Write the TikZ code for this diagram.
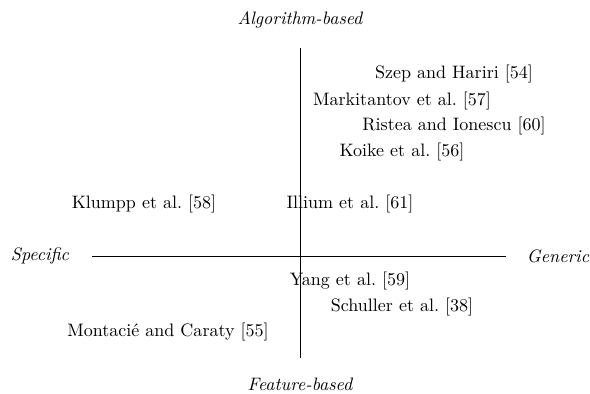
\documentclass[tikz,border=0pt]{standalone}
\usetikzlibrary{positioning}
\begin{document}
\frenchspacing
\begin{tikzpicture}[x=0.555pt,y=-0.555pt]
                \useasboundingbox (0,0) rectangle (590,393);
                \tikzset{axis label/.style={font=\itshape}}

                % axes
                \node[axis label] (alg) at (300,20) {Algorithm-based};
                \node[axis label] (feat) at (300,384) {Feature-based};
                \node[axis label] (spec) at (40,256) {Specific};
                \node[axis label] (gen) at (558,256) {Generic};
                \coordinate (top) at (300,48);
                \coordinate (bottom) at (300,358);
                \coordinate (left) at (92,256);
                \coordinate (right) at (506,256);
                \draw (top) -- (bottom);
                \draw (left) -- (right);

                % works
                \node (szep) at (454,74) {Szep and Hariri [54]};
                \node (mark) at (402,101) {Markitantov et al. [57]};
                \node (rist) at (454,126) {Ristea and Ionescu [60]};
                \node (koik) at (402,152) {Koike et al. [56]};
                \node (klum) at (144,204) {Klumpp et al. [58]};
                \node (illi) at (350,204) {Illium et al. [61]};
                \node (yang) at (350,281) {Yang et al. [59]};
                \node (schu) at (402,307) {Schuller et al. [38]};
                \node (mont) at (168,332) {Montacié and Caraty [55]};
            \end{tikzpicture}
\end{document}
